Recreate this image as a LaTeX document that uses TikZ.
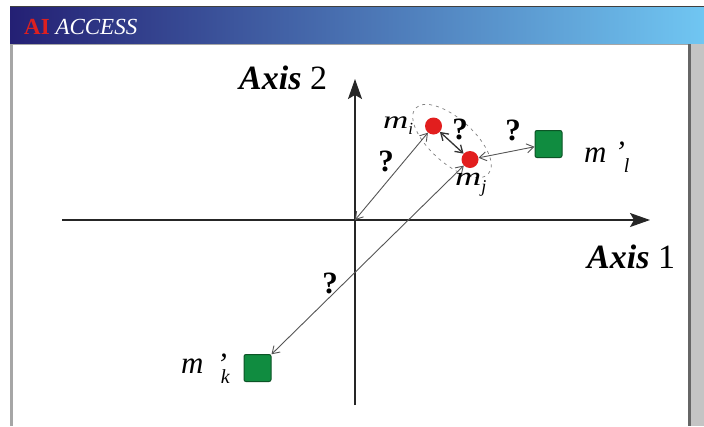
\documentclass[tikz,border=0pt]{standalone}
\usepackage{fontspec}
\setmainfont{Liberation Serif}
\usetikzlibrary{arrows.meta,shapes.geometric}
\definecolor{barL}{RGB}{36,32,116}
\definecolor{barM}{RGB}{88,118,178}
\definecolor{barR}{RGB}{112,198,242}
\definecolor{titlered}{RGB}{220,32,32}
\definecolor{dotred}{RGB}{226,30,30}
\definecolor{sqgreen}{RGB}{16,140,64}
\definecolor{sqedge}{RGB}{12,84,38}
\definecolor{linegrey}{RGB}{85,85,85}
\definecolor{stripgrey}{RGB}{196,196,196}
\begin{document}
\begin{tikzpicture}[x=1pt,y=-1pt,
  dotnode/.style={circle,fill=dotred,inner sep=0pt,minimum size=17pt},
  sqnode/.style={rectangle,rounded corners=2pt,fill=sqgreen,draw=sqedge,line width=1pt,minimum size=27pt,inner sep=0pt},
  axisline/.style={line width=1.1pt,black!85,-{Stealth[length=20pt,width=14pt,inset=4pt]}},
  link/.style={linegrey,line width=0.9pt,{Straight Barb[length=7pt,width=9pt]}-{Straight Barb[length=7pt,width=9pt]}},
  qmark/.style={font=\fontsize{31}{31}\selectfont\bfseries,inner sep=0pt},
  lbl/.style={font=\fontsize{25}{25}\selectfont\itshape,inner sep=0pt},
  lblbig/.style={font=\fontsize{31}{31}\selectfont\itshape,inner sep=0pt},
  axislbl/.style={font=\fontsize{34}{34}\selectfont,inner sep=0pt},
  grpstyle/.style={ellipse,draw=gray,dashed,dash pattern=on 3pt off 4pt,line width=0.7pt,minimum width=98pt,minimum height=44pt,inner sep=0pt}
]
\useasboundingbox (0,0) rectangle (704,426);
\fill[white] (0,0) rectangle (704,426);
% frame
\shade[left color=barL,middle color=barM,right color=barR] (10,7) rectangle (704,44);
\draw[black!75,line width=1pt] (10,6.5) -- (704,6.5);
\draw[gray!70,line width=1pt] (10,44.5) -- (689,44.5);
\fill[gray!70] (10,44) rectangle (12.5,426);
\fill[stripgrey] (689,44) rectangle (704,426);
\fill[gray!80!black] (688,44) rectangle (690.5,426);
\node[anchor=base west,inner sep=0pt,font=\fontsize{23}{23}\selectfont] (title) at (24,34)
  {{\color{titlered}\bfseries AI} {\color{white}\itshape ACCESS}};
% axes
\coordinate (O) at (355,220);
\coordinate (xs) at (62,220);
\coordinate (xe) at (650,220);
\coordinate (ys) at (355,405);
\coordinate (ye) at (355,79);
\draw[axisline] (xs) -- (xe);
\draw[axisline] (ys) -- (ye);
\node[axislbl,anchor=base west] (ax2) at (239,89) {{\bfseries\itshape Axis} 2};
\node[axislbl,anchor=base west] (ax1) at (587,268) {{\bfseries\itshape Axis} 1};
% group
\node[grpstyle,rotate=-42] (grp) at (452,141) {};
% points
\node[dotnode] (mi) at (433.5,126) {};
\node[dotnode] (mj) at (470,159.5) {};
\node[sqnode] (ml) at (548.5,144) {};
\node[sqnode] (mk) at (257.5,368) {};
% links
\draw[link] (O) -- (mi);
\draw[link,line width=1.3pt,black!80] (mi) -- (mj);
\draw[link] (mj) -- (ml);
\draw[link] (mk) -- (mj);
% question marks
\node[qmark] (q1) at (386,161) {?};
\node[qmark] (q2) at (460,129) {?};
\node[qmark] (q3) at (513,130) {?};
\node[qmark] (q4) at (330,283) {?};
% labels
\node[lbl,anchor=base west] (lmi) at (383,128) {\scalebox{1.4}[1]{m}\raisebox{-6pt}{\fontsize{17}{17}\selectfont i}};
\node[lbl,anchor=base west] (lmj) at (455,185) {\scalebox{1.45}[1.05]{m}\raisebox{-7pt}{\fontsize{18}{18}\selectfont j}};
\node[lblbig,anchor=base west] (lml) at (584,162) {m\hspace{8pt}\raisebox{0pt}{’}\hspace{-1pt}\raisebox{-10pt}{\fontsize{20}{20}\selectfont l}};
\node[lblbig,anchor=base west] (lmk) at (181,373) {m\hspace{13pt}\raisebox{-1pt}{’}\hspace{-6pt}\raisebox{-10pt}{\fontsize{20}{20}\selectfont k}};
\end{tikzpicture}
\end{document}
